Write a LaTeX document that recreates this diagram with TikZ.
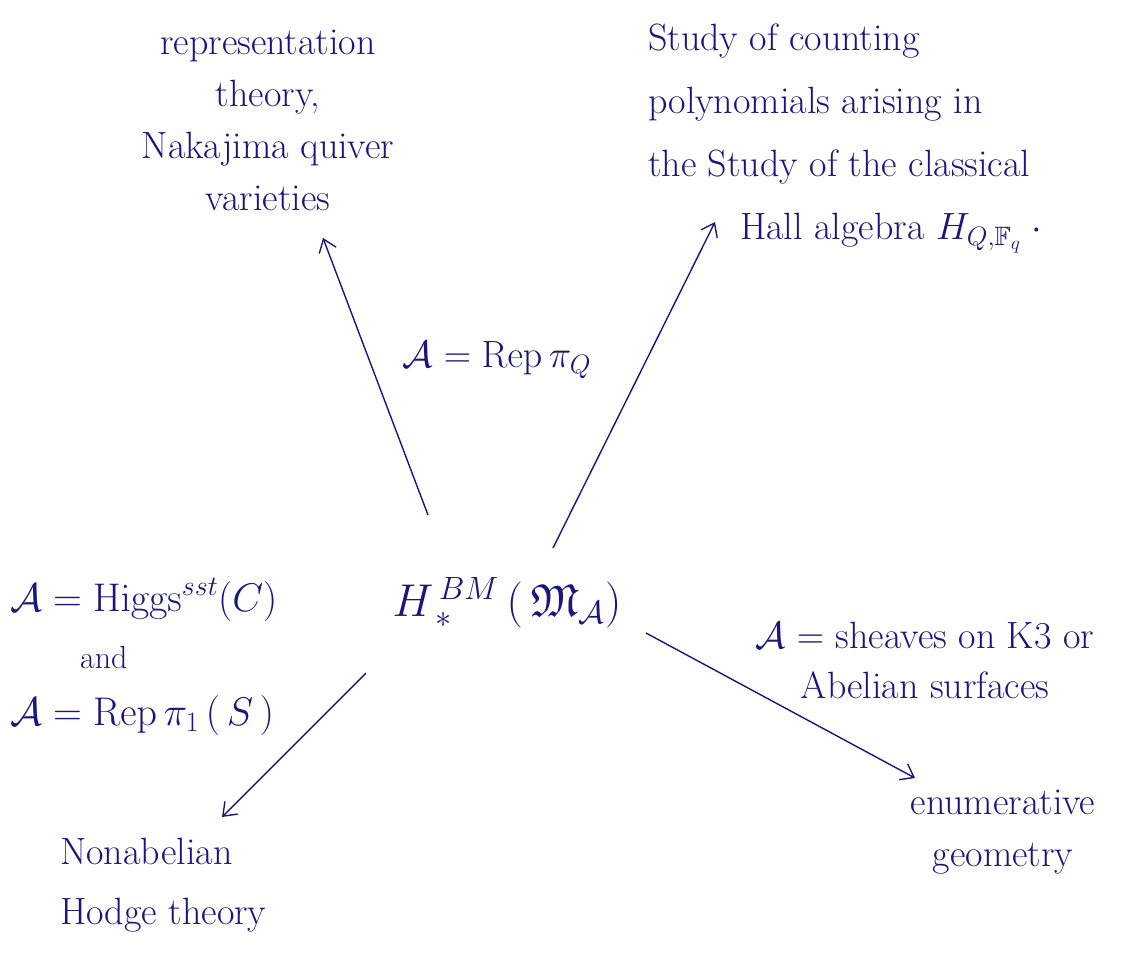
\RequirePackage{fix-cm}
\documentclass[tikz,border=0pt]{standalone}
\usepackage{amsmath,amssymb}
\usetikzlibrary{arrows.meta}
\definecolor{ink}{RGB}{25,22,125}
\tikzset{
  txt/.style={text=ink, font=\fontsize{38}{52}\selectfont, inner sep=0pt},
  arr/.style={draw=ink, line width=1.4pt, -{Straight Barb[length=12pt,width=18pt,line width=1.4pt]}}
}
\begin{document}
\begin{tikzpicture}[x=1pt,y=1pt]
\useasboundingbox (0,0) rectangle (1141,-962);
% texts
\node[txt, align=center] (rep) at (268,-120) {representation\\theory,\\Nakajima quiver\\varieties};
\node[txt, align=left, anchor=north west, font=\fontsize{38}{63}\selectfont] (hall) at (648,-24) {Study of counting\\polynomials arising in\\the Study of the classical\\\hspace{92pt}Hall algebra $H_{Q,\mathbb{F}_q}\;\cdot$};
\node[txt, font=\fontsize{46}{54}\selectfont] (H) at (507,-603) {$H^{\,BM}_{\,*}\,(\,\mathfrak{M}_{\mathcal{A}})$};
\node[txt, anchor=west, font=\fontsize{40}{52}\selectfont] (higgs) at (10,-600) {$\mathcal{A} = \mathrm{Higgs}^{sst}(C)$};
\node[txt, anchor=west, font=\fontsize{32}{36}\selectfont] (and) at (80,-658) {and};
\node[txt, anchor=west, font=\fontsize{40}{52}\selectfont] (reppi) at (10,-715) {$\mathcal{A} = \mathrm{Rep}\,\pi_1\,(\,S\,)$};
\node[txt] (repq) at (497,-360) {$\mathcal{A} = \mathrm{Rep}\,\pi_Q$};
\node[txt, align=center, font=\fontsize{38}{50}\selectfont] (sheaves) at (925,-660) {$\mathcal{A}=$ sheaves on K3 or\\Abelian surfaces};
\node[txt, align=left, anchor=north west, font=\fontsize{38}{60}\selectfont] (hodge) at (60,-838) {Nonabelian\\Hodge theory};
\node[txt, align=center] (enum) at (1003,-832) {enumerative\\geometry};
% connector endpoints
\coordinate (a1) at (428,-515); \coordinate (b1) at (323,-238);
\coordinate (a2) at (553,-548); \coordinate (b2) at (715,-222);
\coordinate (a3) at (366,-673); \coordinate (b3) at (222,-817);
\coordinate (a4) at (646,-633); \coordinate (b4) at (915,-778);
\draw[arr] (a1) -- (b1);
\draw[arr] (a2) -- (b2);
\draw[arr] (a3) -- (b3);
\draw[arr] (a4) -- (b4);
\end{tikzpicture}
\end{document}
